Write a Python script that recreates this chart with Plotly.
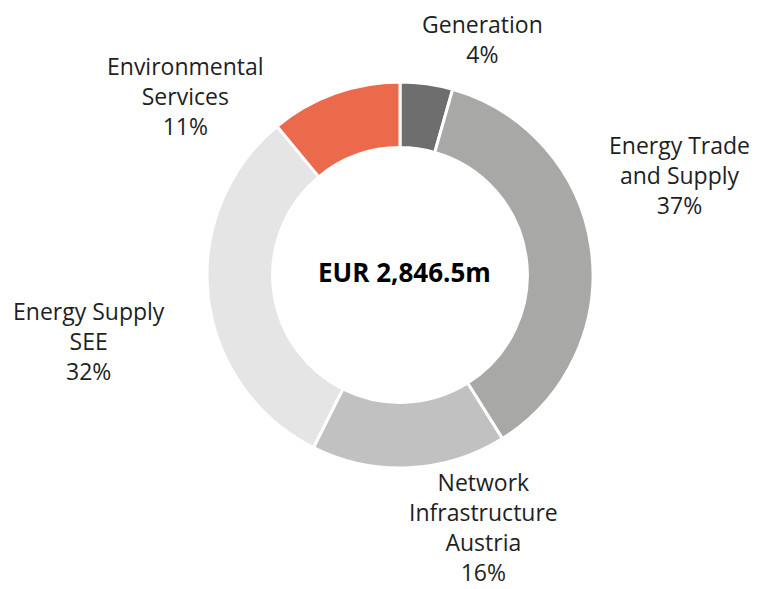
import plotly.graph_objects as go

segments = ["Generation", "Energy Trade<br>and Supply", "Network<br>Infrastructure<br>Austria",
            "Energy Supply<br>SEE", "Environmental<br>Services"]
shares = [4.4, 36.7, 16.3, 31.6, 11.0]
share_labels = ["4%", "37%", "16%", "32%", "11%"]
colors = ["#6e6e6e", "#a8a8a7", "#c1c1c1", "#e5e5e5", "#ec6a4c"]
total_label = "EUR 2,846.5m"

# ---- layout (pixel geometry of the figure) ----
W, H = 757, 589
OFF = 8  # page body offset
L, T = 92, 74
PW, PH = 600, 386
label_pos = [(482, 39), (679, 175), (483, 527), (89, 341), (185, 96)]  # label block centres (screen px)
center_text_pos = (404, 272)


def to_paper(x, y):
    return (x - OFF - L) / PW, 1 - (y - OFF - T) / PH


fig = go.Figure(go.Pie(
    labels=segments,
    values=shares,
    textinfo="none",
    hole=0.66,
    sort=False,
    direction="clockwise",
    rotation=0,
    marker=dict(colors=colors, line=dict(color="white", width=3)),
    showlegend=False,
    hoverinfo="skip",
))

for lab, pct, (x, y) in zip(segments, share_labels, label_pos):
    px, py = to_paper(x, y)
    fig.add_annotation(text=f"{lab}<br>{pct}", x=px, y=py, xref="paper", yref="paper",
                       xanchor="center", yanchor="middle", showarrow=False, align="center",
                       font=dict(size=23, color="#1f1f1f", family="Open Sans"))

cx, cy = to_paper(*center_text_pos)
fig.add_annotation(text=f"<b>{total_label}</b>", x=cx, y=cy, xref="paper", yref="paper",
                   xanchor="center", yanchor="middle", showarrow=False,
                   font=dict(size=26, color="#000000", family="Open Sans"))

fig.update_layout(
    width=W, height=H,
    margin=dict(l=L, r=W - L - PW, t=T, b=H - T - PH, autoexpand=False),
    paper_bgcolor="white", plot_bgcolor="white",
)

fig.write_html("out.html")
